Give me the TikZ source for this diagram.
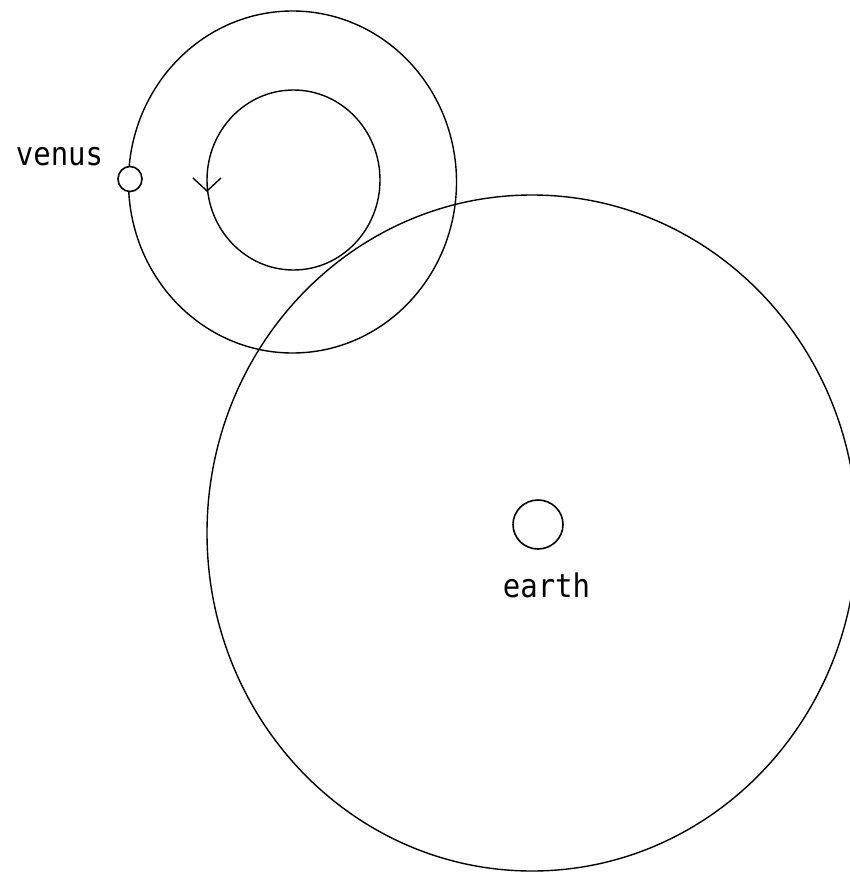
\documentclass[tikz,border=0pt]{standalone}
\usepackage{fontspec}
\newfontfamily\pixfont{DejaVu Sans Mono}
\tikzset{
  orbit/.style={draw=black, line width=1.4pt},
  body/.style={draw=black, line width=1.6pt, fill=white, ellipse, inner sep=0pt},
  lbl/.style={font=\pixfont\fontsize{29}{29}\selectfont, inner sep=0pt, anchor=base, text=black}
}
\usetikzlibrary{shapes.geometric}
\begin{document}
\begin{tikzpicture}[x=1pt,y=-1pt]
\useasboundingbox (0,0) rectangle (850,873);
\clip (0,0) rectangle (850,873);
% big orbit around earth
\draw[orbit] (532,533) ellipse [x radius=325, y radius=338];
% deferent of venus
\draw[orbit] (292.5,182) ellipse [x radius=164, y radius=171];
% epicycle
\draw[orbit] (293.5,180) ellipse [x radius=86.5, y radius=90];
% arrow on epicycle
\coordinate (tip) at (207,191);
\coordinate (wl) at (193,178);
\coordinate (wr) at (221,178);
\draw[orbit, line join=miter] (wl) -- (tip) -- (wr);
% venus
\node[body, minimum width=24pt, minimum height=25pt] (venus) at (130,179) {};
\node[lbl] (venuslbl) at (59.5,165) {\scalebox{1}[1.12]{venus}};
% earth
\node[body, minimum width=50pt, minimum height=49pt] (earth) at (538,524.5) {};
\node[lbl] (earthlbl) at (546.5,597) {\scalebox{1}[1.12]{earth}};
\end{tikzpicture}
\end{document}
